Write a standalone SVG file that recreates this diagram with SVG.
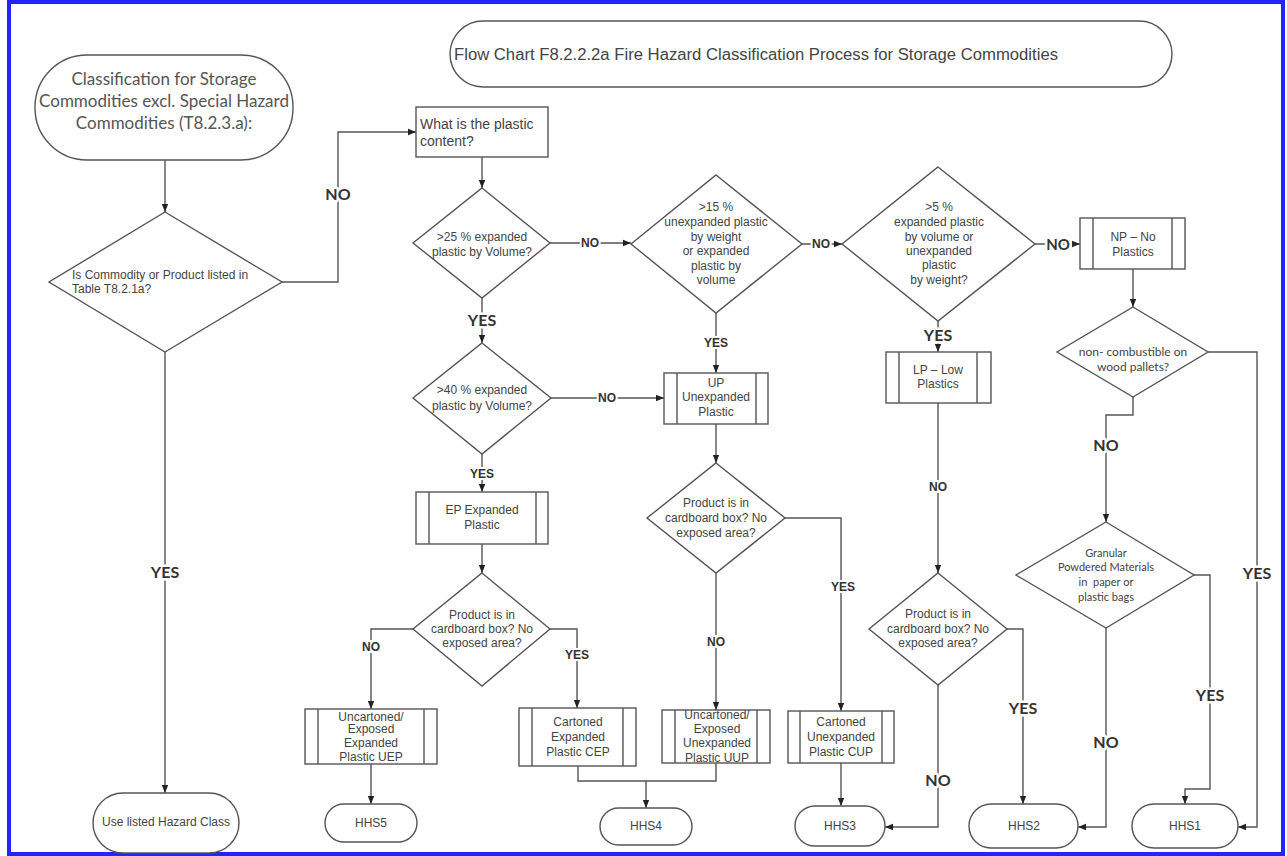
<svg xmlns="http://www.w3.org/2000/svg" width="1287" height="856" viewBox="0 0 1287 856">
<style>
.sh{fill:#fff;stroke:#555;stroke-width:1.4}
.ln{fill:none;stroke:#555;stroke-width:1.4}
.con{fill:none;stroke:#555;stroke-width:1.4;marker-end:url(#arr)}
.t{font-family:"Liberation Sans",Arial,sans-serif;font-size:12px;fill:#444;text-anchor:middle}
.tc{font-family:Lato,"Liberation Sans",sans-serif;font-size:12px;fill:#444;text-anchor:middle}
.lb{font-family:Lato,"Liberation Sans",sans-serif;font-weight:bold;fill:#333;text-anchor:middle;stroke:#fff;stroke-width:5;paint-order:stroke;stroke-linejoin:round}
.sm{font-family:"Liberation Sans",Arial,sans-serif;font-weight:bold;font-size:12px;fill:#333;text-anchor:middle;stroke:#fff;stroke-width:4;paint-order:stroke}
</style>
<defs>
<marker id="arr" viewBox="0 0 10 10" refX="10" refY="5" markerWidth="8" markerHeight="8" orient="auto" markerUnits="userSpaceOnUse"><path d="M0,1 L10,5 L0,9 z" fill="#222"/></marker>
</defs>
<rect x="0" y="0" width="1287" height="856" fill="#fff"/>
<rect x="9" y="2" width="1274" height="852" fill="none" stroke="#2424ff" stroke-width="4"/>

<g id="title">
<rect class="sh" x="450" y="21" width="722" height="66" rx="33"/>
<text x="454" y="60" font-family="Liberation Sans, Arial, sans-serif" font-size="16" fill="#444" textLength="604" lengthAdjust="spacingAndGlyphs">Flow Chart F8.2.2.2a Fire Hazard Classification Process for Storage Commodities</text>
</g>

<g id="connectors">
<path class="con" d="M165,160 V212"/>
<path class="con" d="M282,282 H338 V132 H416"/>
<path class="con" d="M482,157 V188"/>
<path class="con" d="M550,243 H631"/>
<path class="con" d="M802,244 H842"/>
<path class="con" d="M1035,244 H1080"/>
<path class="con" d="M1133,269 V307"/>
<path class="con" d="M1208,352 H1257 V827 H1238"/>
<path class="con" d="M1133,397 V415 H1106 V522"/>
<path class="con" d="M1194,575 H1210 V789 H1185 V804"/>
<path class="con" d="M1106,628 V827 H1078"/>
<path class="con" d="M938,321 V352"/>
<path class="con" d="M938,403 V573"/>
<path class="con" d="M1007,629 H1023 V804"/>
<path class="con" d="M938,685 V827 H885"/>
<path class="con" d="M716,313 V373"/>
<path class="con" d="M716,424 V463"/>
<path class="con" d="M785,518 H841 V711"/>
<path class="con" d="M716,573 V710"/>
<path class="con" d="M841,763 V806"/>
<path class="con" d="M578,766 V781 H646 V808"/>
<path class="ln" d="M716,763 V781 H646"/>
<path class="con" d="M482,298 V343"/>
<path class="con" d="M551,398 H664"/>
<path class="con" d="M482,454 V492"/>
<path class="con" d="M482,544 V573"/>
<path class="con" d="M413,629 H371 V709"/>
<path class="con" d="M550,629 H577 V708"/>
<path class="con" d="M371,764 V804"/>
<path class="con" d="M165,352 V793"/>

<text class="lb" x="338" y="200" font-size="16">NO</text>
<text class="lb" x="165" y="578" font-size="16">YES</text>
<text class="sm" x="590" y="247">NO</text>
<text class="sm" x="821" y="248">NO</text>
<text class="lb" x="1058" y="250" font-size="15">NO</text>
<text class="lb" x="482" y="326" font-size="16">YES</text>
<text class="sm" x="716" y="347" font-size="13">YES</text>
<text class="lb" x="938" y="341" font-size="16">YES</text>
<text class="sm" x="607" y="402">NO</text>
<text class="sm" x="482" y="478" font-size="13">YES</text>
<text class="sm" x="938" y="491">NO</text>
<text class="lb" x="1106" y="451" font-size="16">NO</text>
<text class="lb" x="1257" y="579" font-size="16">YES</text>
<text class="sm" x="843" y="591">YES</text>
<text class="sm" x="716" y="646">NO</text>
<text class="sm" x="371" y="651">NO</text>
<text class="sm" x="577" y="659">YES</text>
<text class="lb" x="1210" y="701" font-size="16">YES</text>
<text class="lb" x="1023" y="714" font-size="16">YES</text>
<text class="lb" x="1106" y="748" font-size="16">NO</text>
<text class="lb" x="938" y="786" font-size="16">NO</text>
</g>

<g id="start">
<rect class="sh" x="35" y="55" width="258" height="105" rx="52"/>
<text x="164" y="85" font-family="Lato, Liberation Sans, sans-serif" font-size="17" fill="#555" text-anchor="middle">Classification for Storage</text>
<text x="164" y="107" font-family="Lato, Liberation Sans, sans-serif" font-size="17" fill="#555" text-anchor="middle">Commodities excl. Special Hazard</text>
<text x="164" y="129" font-family="Lato, Liberation Sans, sans-serif" font-size="17" fill="#555" text-anchor="middle">Commodities (T8.2.3.a):</text>
</g>

<g id="listed">
<polygon class="sh" points="165,212 282,282 165,352 49,282"/>
<text class="t" x="72" y="279" text-anchor="start" style="text-anchor:start">Is Commodity or Product listed in</text>
<text class="t" x="72" y="293" style="text-anchor:start">Table T8.2.1a?</text>
</g>

<g id="use-listed">
<rect class="sh" x="93" y="793" width="146" height="60" rx="30"/>
<text class="t" x="166" y="826">Use listed Hazard Class</text>
</g>

<g id="plastic-content">
<rect class="sh" x="416" y="107" width="132" height="50"/>
<text class="t" x="420" y="129" font-size="14" style="text-anchor:start;font-size:14px">What is the plastic</text>
<text class="t" x="420" y="146" style="text-anchor:start;font-size:14px">content?</text>
</g>

<g id="d25">
<polygon class="sh" points="482,188 550,243 482,298 413,243"/>
<text class="t" x="482" y="241">&gt;25 % expanded</text>
<text class="t" x="482" y="256">plastic by Volume?</text>
</g>

<g id="d15">
<polygon class="sh" points="716,175 802,244 716,313 631,244"/>
<text class="t" x="716" y="211">&gt;15 %</text>
<text class="t" x="716" y="226">unexpanded plastic</text>
<text class="t" x="716" y="241">by weight</text>
<text class="t" x="716" y="255">or expanded</text>
<text class="t" x="716" y="270">plastic by</text>
<text class="t" x="716" y="284">volume</text>
</g>

<g id="d5">
<polygon class="sh" points="938,167 1035,244 938,321 842,244"/>
<text class="t" x="939" y="211">&gt;5 %</text>
<text class="t" x="939" y="226">expanded plastic</text>
<text class="t" x="939" y="241">by volume or</text>
<text class="t" x="939" y="255">unexpanded</text>
<text class="t" x="939" y="269">plastic</text>
<text class="t" x="939" y="284">by weight?</text>
</g>

<g id="np">
<rect class="sh" x="1080" y="218" width="105" height="51"/>
<path class="ln" d="M1093,218 V269 M1172,218 V269"/>
<text class="t" x="1133" y="241">NP – No</text>
<text class="t" x="1133" y="256">Plastics</text>
</g>

<g id="noncomb">
<polygon class="sh" points="1133,307 1208,352 1133,397 1057,352"/>
<text class="tc" x="1133" y="356">non- combustible on</text>
<text class="tc" x="1133" y="371">wood pallets?</text>
</g>

<g id="granular">
<polygon class="sh" points="1106,522 1194,575 1106,628 1016,575"/>
<text class="tc" x="1106" y="557" font-size="11" style="font-size:11px">Granular</text>
<text class="tc" x="1106" y="571" style="font-size:11px">Powdered Materials</text>
<text class="tc" x="1106" y="586" style="font-size:11px" xml:space="preserve">in  paper or</text>
<text class="tc" x="1106" y="601" style="font-size:11px">plastic bags</text>
</g>

<g id="lp">
<rect class="sh" x="886" y="352" width="105" height="51"/>
<path class="ln" d="M899,352 V403 M977,352 V403"/>
<text class="t" x="938" y="374">LP – Low</text>
<text class="t" x="938" y="388">Plastics</text>
</g>

<g id="d-lp-box">
<polygon class="sh" points="938,573 1007,629 938,685 869,629"/>
<text class="t" x="938" y="618">Product is in</text>
<text class="t" x="938" y="633">cardboard box? No</text>
<text class="t" x="938" y="647">exposed area?</text>
</g>

<g id="up">
<rect class="sh" x="664" y="373" width="104" height="51"/>
<path class="ln" d="M677,373 V424 M756,373 V424"/>
<text class="t" x="716" y="387">UP</text>
<text class="t" x="716" y="401">Unexpanded</text>
<text class="t" x="716" y="416">Plastic</text>
</g>

<g id="d-up-box">
<polygon class="sh" points="716,463 785,518 716,573 647,518"/>
<text class="t" x="716" y="507">Product is in</text>
<text class="t" x="716" y="522">cardboard box? No</text>
<text class="t" x="716" y="537">exposed area?</text>
</g>

<g id="uup">
<rect class="sh" x="662" y="710" width="108" height="53"/>
<path class="ln" d="M675,710 V763 M757,710 V763"/>
<text class="t" x="717" y="719">Uncartoned/</text>
<text class="t" x="717" y="733">Exposed</text>
<text class="t" x="717" y="747">Unexpanded</text>
<text class="t" x="717" y="762">Plastic UUP</text>
</g>

<g id="cup">
<rect class="sh" x="788" y="711" width="106" height="52"/>
<path class="ln" d="M800,711 V763 M882,711 V763"/>
<text class="t" x="841" y="726">Cartoned</text>
<text class="t" x="841" y="741">Unexpanded</text>
<text class="t" x="841" y="756">Plastic CUP</text>
</g>

<g id="d40">
<polygon class="sh" points="482,343 551,398 482,454 413,398"/>
<text class="t" x="482" y="394">&gt;40 % expanded</text>
<text class="t" x="482" y="410">plastic by Volume?</text>
</g>

<g id="ep">
<rect class="sh" x="416" y="492" width="132" height="52"/>
<path class="ln" d="M429,492 V544 M536,492 V544"/>
<text class="t" x="482" y="514">EP Expanded</text>
<text class="t" x="482" y="529">Plastic</text>
</g>

<g id="d-ep-box">
<polygon class="sh" points="482,573 550,629 482,686 413,629"/>
<text class="t" x="482" y="619">Product is in</text>
<text class="t" x="482" y="633">cardboard box? No</text>
<text class="t" x="482" y="647">exposed area?</text>
</g>

<g id="uep">
<rect class="sh" x="305" y="709" width="132" height="55"/>
<path class="ln" d="M318,709 V764 M424,709 V764"/>
<text class="t" x="371" y="721">Uncartoned/</text>
<text class="t" x="371" y="733">Exposed</text>
<text class="t" x="371" y="747">Expanded</text>
<text class="t" x="371" y="761">Plastic UEP</text>
</g>

<g id="cep">
<rect class="sh" x="519" y="708" width="117" height="58"/>
<path class="ln" d="M532,708 V766 M623,708 V766"/>
<text class="t" x="578" y="726">Cartoned</text>
<text class="t" x="578" y="741">Expanded</text>
<text class="t" x="578" y="756">Plastic CEP</text>
</g>

<g id="hhs5">
<rect class="sh" x="325" y="804" width="92" height="38" rx="19"/>
<text class="t" x="371" y="827">HHS5</text>
</g>
<g id="hhs4">
<rect class="sh" x="600" y="808" width="92" height="37" rx="18.5"/>
<text class="t" x="646" y="830">HHS4</text>
</g>
<g id="hhs3">
<rect class="sh" x="795" y="806" width="90" height="40" rx="20"/>
<text class="t" x="840" y="830">HHS3</text>
</g>
<g id="hhs2">
<rect class="sh" x="969" y="804" width="109" height="44" rx="22"/>
<text class="t" x="1024" y="830">HHS2</text>
</g>
<g id="hhs1">
<rect class="sh" x="1132" y="804" width="106" height="44" rx="22"/>
<text class="t" x="1185" y="830">HHS1</text>
</g>
</svg>
